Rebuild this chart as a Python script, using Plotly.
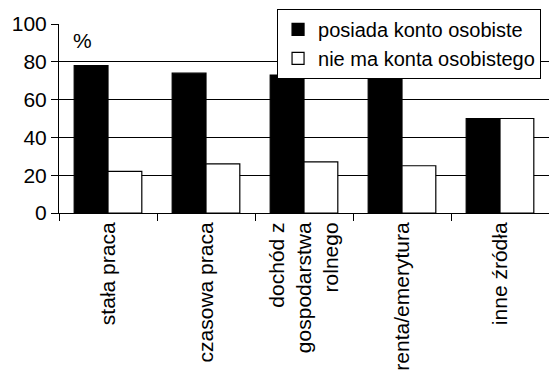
import plotly.graph_objects as go

categories = ["stała praca", "czasowa praca", "dochód z<br>gospodarstwa<br>rolnego", "renta/emerytura", "inne źródła"]
posiada = [78, 74, 73, 75, 50]
nie_ma = [22, 26, 27, 25, 50]
y_ticks = [0, 20, 40, 60, 80, 100]

FONT = "Liberation Sans, Arial, sans-serif"

fig = go.Figure()
fig.add_trace(go.Bar(x=categories, y=posiada, name="posiada konto osobiste",
                     marker=dict(color="black", line=dict(color="black", width=1.2))))
fig.add_trace(go.Bar(x=categories, y=nie_ma, name="nie ma konta osobistego",
                     marker=dict(color="white", line=dict(color="black", width=1.2))))

fig.update_layout(
    width=549, height=382,
    margin=dict(l=59, r=0, t=24, b=169),
    paper_bgcolor="white", plot_bgcolor="white",
    barmode="group", bargap=0.31, bargroupgap=0,
    font=dict(family=FONT, size=21, color="black"),
    legend=dict(x=0.445, y=1.08, xanchor="left", yanchor="top",
                bgcolor="white", bordercolor="black", borderwidth=1,
                font=dict(size=20), tracegroupgap=0, itemwidth=30),
    annotations=[dict(text="%", x=0.047, y=0.915, xref="paper", yref="paper",
                      showarrow=False, font=dict(size=21), xanchor="center", yanchor="middle")],
)
fig.update_xaxes(type="category", tickangle=-90, tickson="boundaries",
                 ticks="outside", ticklen=7, tickcolor="black",
                 showline=True, linecolor="black", linewidth=1,
                 showgrid=False, tickfont=dict(size=21))
fig.update_yaxes(range=[0, 100], tickvals=y_ticks, ticks="outside", ticklen=7,
                 tickcolor="black", showline=True, linecolor="black", linewidth=1,
                 showgrid=True, gridcolor="black", gridwidth=1, zeroline=False,
                 tickfont=dict(size=21))

fig.write_html("out.html")
